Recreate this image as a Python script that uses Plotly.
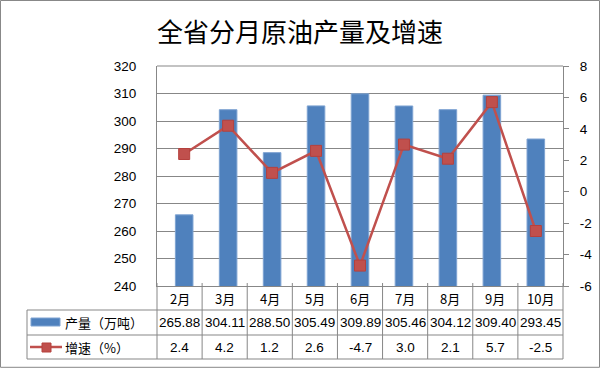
import plotly.graph_objects as go

months = ["2月", "3月", "4月", "5月", "6月", "7月", "8月", "9月", "10月"]
output = [265.88, 304.11, 288.50, 305.49, 309.89, 305.46, 304.12, 309.40, 293.45]
growth = [2.4, 4.2, 1.2, 2.6, -4.7, 3.0, 2.1, 5.7, -2.5]
output_label = "产量（万吨）"
growth_label = "增速（%）"
title = "全省分月原油产量及增速"
right_ticks = [-6, -4, -2, 0, 2, 4, 6, 8]
right_ticktext = ["-6", "-4", "-2", "0", "2", "4", "6", "8"]

W, H = 600, 368
L, R, T, B = 157, 37, 66, 82
PW, PH = W - L - R, H - T - B

def px(x):
    return (x - L) / PW

def py(y):
    return (T + PH - y) / PH

BLUE = "#4F81BD"
RED = "#C0504D"
GRID = "#878787"
FONT = "Liberation Sans, Arial, Noto Sans CJK SC"
CJK = "Noto Sans CJK SC"

fig = go.Figure()
fig.add_trace(go.Bar(x=months, y=output, marker=dict(color=BLUE, line=dict(color="#7EA3D2", width=1)),
                     width=0.4, yaxis="y", name=output_label, showlegend=False))
fig.add_trace(go.Scatter(x=months, y=growth, yaxis="y2", mode="lines+markers",
                         line=dict(color=RED, width=2.5),
                         marker=dict(symbol="square", size=11, color=RED, line=dict(color="#B5403D", width=1)),
                         name=growth_label, showlegend=False))

shapes = []
n = len(months)
cw = PW / n
line_style = dict(color=GRID, width=1)
for k in range(n + 1):
    x = L + k * cw
    shapes.append(dict(type="line", xref="paper", yref="paper", x0=px(x), x1=px(x),
                       y0=py(283), y1=py(359), line=line_style))
for y in (310, 335, 359):
    shapes.append(dict(type="line", xref="paper", yref="paper", x0=px(27), x1=px(L + PW),
                       y0=py(y), y1=py(y), line=line_style))
shapes.append(dict(type="line", xref="paper", yref="paper", x0=px(27), x1=px(27),
                   y0=py(310), y1=py(359), line=line_style))
shapes.append(dict(type="line", xref="paper", yref="paper", x0=0, x1=1, y0=1, y1=1, line=line_style))
shapes.append(dict(type="rect", xref="paper", yref="paper", x0=px(0.5), x1=px(599.5),
                   y0=py(0.5), y1=py(367.3), line=dict(color="#888888", width=1)))
shapes.append(dict(type="rect", xref="paper", yref="paper", x0=px(31), x1=px(60),
                   y0=py(318), y1=py(326), fillcolor=BLUE, line=dict(color="#7EA3D2", width=1)))
shapes.append(dict(type="line", xref="paper", yref="paper", x0=px(30), x1=px(62),
                   y0=py(347), y1=py(347), line=dict(color=RED, width=2.5)))
shapes.append(dict(type="rect", xref="paper", yref="paper", x0=px(42), x1=px(51),
                   y0=py(343), y1=py(352), fillcolor=RED, line=dict(color="#B5403D", width=1)))

ann = []
ann.append(dict(text=title, x=px(300), y=py(30), xref="paper", yref="paper", showarrow=False,
                font=dict(family=CJK, size=26, color="#000"), xanchor="center", yanchor="middle"))
for k in range(n):
    cx = px(L + (k + 0.5) * cw)
    ann.append(dict(text=months[k], x=cx, y=py(298), xref="paper", yref="paper", showarrow=False,
                    font=dict(family=CJK, size=13, color="#000"), xanchor="center", yanchor="middle"))
    ann.append(dict(text=f"{output[k]:.2f}", x=cx, y=py(322.5), xref="paper", yref="paper", showarrow=False,
                    font=dict(family=FONT, size=13.5, color="#000"), xanchor="center", yanchor="middle"))
    ann.append(dict(text=f"{growth[k]:.1f}", x=cx, y=py(347), xref="paper", yref="paper", showarrow=False,
                    font=dict(family=FONT, size=13.5, color="#000"), xanchor="center", yanchor="middle"))
ann.append(dict(text=output_label, x=px(63), y=py(322.5), xref="paper", yref="paper", showarrow=False,
                font=dict(family=CJK, size=13, color="#000"), xanchor="left", yanchor="middle"))
ann.append(dict(text=growth_label, x=px(63), y=py(347), xref="paper", yref="paper", showarrow=False,
                font=dict(family=CJK, size=13, color="#000"), xanchor="left", yanchor="middle"))

fig.update_layout(
    width=W, height=H, autosize=False,
    margin=dict(l=L, r=R, t=T, b=B, pad=0, autoexpand=False),
    paper_bgcolor="white", plot_bgcolor="white",
    showlegend=False, bargap=0.6,
    xaxis=dict(type="category", showticklabels=False, ticks="", showgrid=False, automargin=False,
               showline=True, linecolor=GRID, linewidth=1, zeroline=False, fixedrange=True),
    yaxis=dict(range=[240, 320], dtick=10, tick0=240, showgrid=True, gridcolor=GRID, gridwidth=1,
               showline=True, linecolor=GRID, linewidth=1, ticks="", zeroline=False, automargin=False,
               tickfont=dict(family=FONT, size=13.5, color="#000"), ticklabelstandoff=17),
    yaxis2=dict(range=[-6, 8], tickmode="array", tickvals=right_ticks, ticktext=right_ticktext,
                overlaying="y", side="right", showgrid=False, automargin=False,
                showline=True, linecolor=GRID, linewidth=1, ticks="outside", ticklen=5, tickcolor=GRID,
                zeroline=False, tickfont=dict(family=FONT, size=13.5, color="#000"), ticklabelstandoff=8),
    shapes=shapes, annotations=ann,
)

fig.write_html(
    "out.html",
    config={"displayModeBar": False},
    post_script=("document.documentElement.style.margin='0';document.documentElement.style.overflow='hidden';"
                 "document.body.style.margin='0';document.body.style.padding='0';document.body.style.overflow='hidden';"),
)
